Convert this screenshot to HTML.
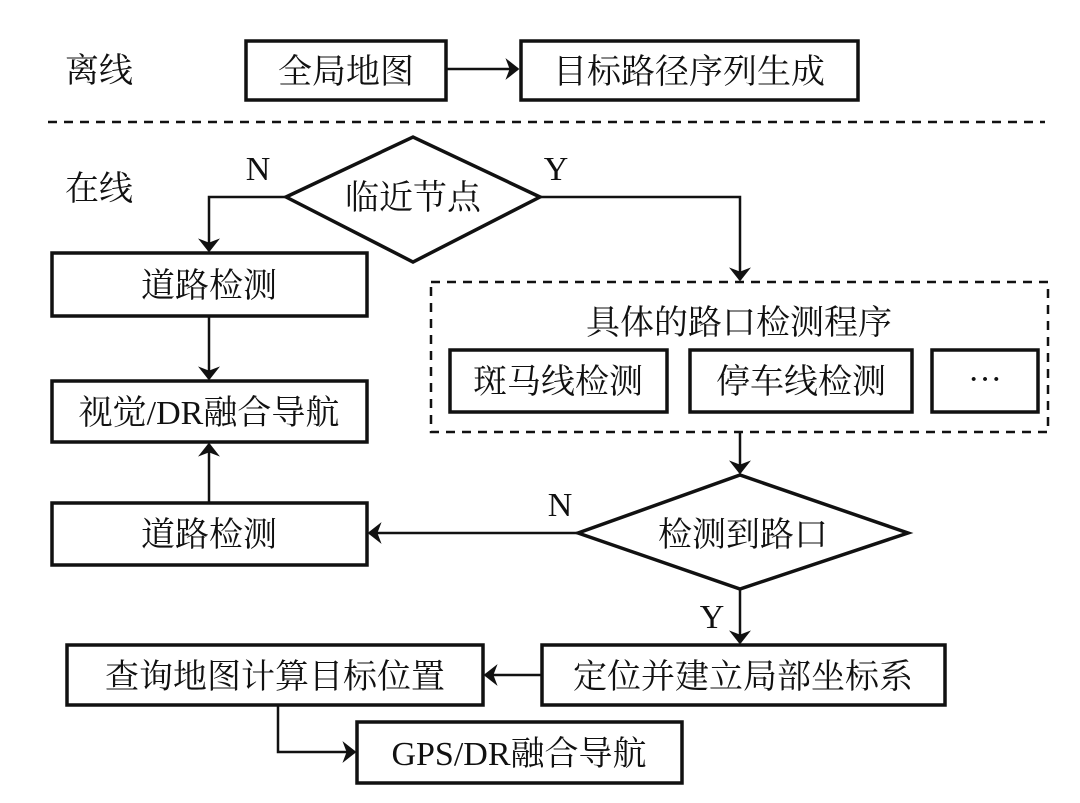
<!DOCTYPE html>
<html><head><meta charset="utf-8"><style>
html,body{margin:0;padding:0;background:#fff;}
svg{display:block;}
text{font-family:"Liberation Serif","Noto Serif CJK SC",serif;font-size:34px;fill:#111;}
</style></head><body>
<svg width="1080" height="803" viewBox="0 0 1080 803" xmlns="http://www.w3.org/2000/svg">
<defs>
<marker id="a" markerWidth="10" markerHeight="10" refX="9" refY="5" orient="auto" markerUnits="userSpaceOnUse">
<path d="M0,0 L10,5 L0,10 L3,5 Z" fill="#111"/></marker>
<marker id="b" viewBox="0 0 10 10" markerWidth="14" markerHeight="22" refX="9" refY="5" orient="auto" markerUnits="userSpaceOnUse" preserveAspectRatio="none">
<path d="M0,0 L10,5 L0,10 L3,5 Z" fill="#111"/></marker>
</defs>
<g fill="none" stroke="#111" stroke-width="3.5">
<rect x="246" y="41" width="200" height="59"/>
<rect x="521" y="41" width="337" height="59"/>
<rect x="52" y="253" width="315" height="63"/>
<rect x="52" y="381" width="315" height="61"/>
<rect x="52" y="503" width="315" height="62"/>
<rect x="450" y="350" width="217" height="62"/>
<rect x="690" y="350" width="222" height="62"/>
<rect x="932" y="350" width="106" height="62"/>
<rect x="542" y="645" width="403" height="60"/>
<rect x="67" y="645" width="416" height="60"/>
<rect x="357" y="722" width="325" height="61"/>
<polygon points="286,197 413,137 540,197 413,262"/>
<polygon points="578,533 740,475 908,533 740,589"/>
</g>
<g fill="none" stroke="#111" stroke-width="2.5" stroke-dasharray="9,7">
<line x1="48" y1="122" x2="1045" y2="122"/>
<rect x="431" y="282" width="617" height="150"/>
</g>
<g fill="none" stroke="#111" stroke-width="2.5">
<line x1="446" y1="69" x2="518" y2="69" marker-end="url(#b)"/>
<polyline points="286,197 209,197 209,251" marker-end="url(#b)"/>
<line x1="209" y1="316" x2="209" y2="379" marker-end="url(#b)"/>
<polyline points="540,197 740,197 740,280" marker-end="url(#b)"/>
<line x1="740" y1="432" x2="740" y2="473" marker-end="url(#b)"/>
<line x1="578" y1="533" x2="369" y2="533" marker-end="url(#b)"/>
<line x1="209" y1="503" x2="209" y2="444" marker-end="url(#b)"/>
<line x1="740" y1="589" x2="740" y2="643" marker-end="url(#b)"/>
<line x1="542" y1="675" x2="485" y2="675" marker-end="url(#b)"/>
<polyline points="278,705 278,752 355,752" marker-end="url(#b)"/>
</g>
<text x="65" y="82">离线</text>
<text x="65" y="200">在线</text>
<text x="346" y="83" text-anchor="middle">全局地图</text>
<text x="689" y="83" text-anchor="middle">目标路径序列生成</text>
<text x="258" y="180" text-anchor="middle">N</text>
<text x="556" y="180" text-anchor="middle">Y</text>
<text x="413" y="209" text-anchor="middle">临近节点</text>
<text x="209" y="297" text-anchor="middle">道路检测</text>
<text x="209" y="424" text-anchor="middle">视觉/DR融合导航</text>
<text x="209" y="546" text-anchor="middle">道路检测</text>
<text x="739" y="334" text-anchor="middle">具体的路口检测程序</text>
<text x="558" y="393" text-anchor="middle">斑马线检测</text>
<text x="801" y="393" text-anchor="middle">停车线检测</text>
<text x="985" y="390" text-anchor="middle">···</text>
<text x="560" y="516" text-anchor="middle">N</text>
<text x="743" y="546" text-anchor="middle">检测到路口</text>
<text x="712" y="628" text-anchor="middle">Y</text>
<text x="743" y="688" text-anchor="middle">定位并建立局部坐标系</text>
<text x="275" y="688" text-anchor="middle">查询地图计算目标位置</text>
<text x="519" y="765" text-anchor="middle">GPS/DR融合导航</text>
</svg>
</body></html>
